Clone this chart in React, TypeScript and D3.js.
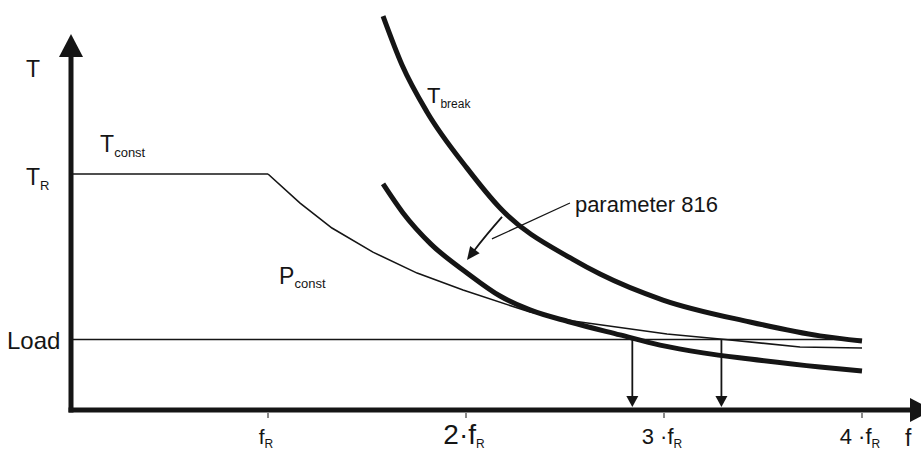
import React from 'react';
import { scaleLinear, line, curveLinear, curveMonotoneX } from 'd3';

// f in units of f_R, T in units of T_R
const T_CONST_F = [0, 1];
const T_CONST_T = [1, 1];

const P_CONST_F = [1.0, 1.162, 1.323, 1.53, 1.753, 1.985, 2.323, 2.54, 3.015, 3.283, 3.687, 4.0];
const P_CONST_T = [1.0, 0.877, 0.771, 0.669, 0.58, 0.508, 0.415, 0.377, 0.322, 0.301, 0.267, 0.263];

const T_BREAK_F = [1.581, 1.677, 1.803, 2.005, 2.172, 2.54, 2.677, 2.995, 3.434, 3.788, 4.0];
const T_BREAK_T = [1.669, 1.462, 1.263, 1.025, 0.856, 0.638, 0.576, 0.466, 0.373, 0.314, 0.292];

const P816_F = [1.581, 1.682, 1.823, 2.005, 2.172, 2.323, 2.525, 2.778, 2.98, 3.197, 3.434, 3.788, 4.0];
const P816_T = [0.958, 0.835, 0.703, 0.581, 0.483, 0.424, 0.373, 0.318, 0.275, 0.242, 0.216, 0.182, 0.165];

const LOAD_T = 0.299;
const LOAD_END_F = 4.0;
const DROP_F = [2.84, 3.29];

const X_TICKS = [1, 2, 3, 4];
const X_TICK_LABEL = ['f', '2·f', '3 ·f', '4 ·f'];
const X_TICK_SIZE = [21, 28, 22, 22];

const W = 921;
const H = 453;
const INK = '#151515';
const FONT = '"Liberation Sans", Arial, Helvetica, sans-serif';

type Pt = { f: number; t: number };
const zip = (fs: number[], ts: number[]): Pt[] => fs.map((f, i) => ({ f, t: ts[i] }));

export default function App() {
  const x = scaleLinear().domain([0, 4]).range([70, 862]);
  const y = scaleLinear().domain([0, 1]).range([410, 174]);

  const thin = line<Pt>().x((d) => x(d.f)).y((d) => y(d.t)).curve(curveLinear);
  const thick = line<Pt>().x((d) => x(d.f)).y((d) => y(d.t)).curve(curveMonotoneX);

  const x0 = x(0);
  const y0 = y(0);

  // annotation for parameter 816 (data units)
  const leadFrom = { f: 2.525, t: 0.877 };
  const leadTo = { f: 2.131, t: 0.725 };
  const arrFrom = { f: 2.182, t: 0.818 };
  const arrCtl = { f: 2.1, t: 0.74 };
  const arrTip = { f: 2.005, t: 0.636 };
  const ax = x(arrTip.f);
  const ay = y(arrTip.t);
  const dx = ax - x(arrCtl.f);
  const dy = ay - y(arrCtl.t);
  const len = Math.hypot(dx, dy);
  const ux = dx / len;
  const uy = dy / len;
  const headL = 13;
  const headW = 6;
  const head = [
    [ax, ay],
    [ax - ux * headL - uy * headW, ay - uy * headL + ux * headW],
    [ax - ux * headL + uy * headW, ay - uy * headL - ux * headW],
  ]
    .map((p) => p.join(','))
    .join(' ');

  return (
    <svg
      width={W}
      height={H}
      viewBox={`0 0 ${W} ${H}`}
      style={{ position: 'fixed', left: 0, top: 0, background: '#fff' }}
      fontFamily={FONT}
      fill={INK}
    >
      <rect width={W} height={H} fill="#fff" />

      {/* axes */}
      <line x1={x0 + 1} y1={y0 + 2.5} x2={x0 + 1} y2={52} stroke={INK} strokeWidth={5} />
      <polygon points={`${x0 + 1},34 ${x0 - 11},57 ${x0 + 13},57`} fill={INK} />
      <line x1={x0 - 1.5} y1={y0} x2={912} y2={y0} stroke={INK} strokeWidth={5} />
      <polygon points={`933,${y0} 910,${y0 - 12} 910,${y0 + 12}`} fill={INK} />

      {X_TICKS.map((v, i) => (
        <g key={v}>
          <line x1={x(v)} x2={x(v)} y1={y0 + 3} y2={y0 + 8} stroke={INK} strokeWidth={1} />
          <text x={x(v) - 2} y={444} textAnchor="middle" fontSize={X_TICK_SIZE[i]}>
            {X_TICK_LABEL[i]}
            <tspan fontSize={12} dy={4}>R</tspan>
          </text>
        </g>
      ))}
      <text x={905} y={446} fontSize={23}>f</text>

      {/* y labels */}
      <text x={26} y={77} fontSize={23}>T</text>
      <text x={26} y={185} fontSize={23}>
        T<tspan fontSize={13} dy={5}>R</tspan>
      </text>
      <text x={7} y={349} fontSize={24}>Load</text>

      {/* load line */}
      <line x1={x0 + 3} x2={x(LOAD_END_F)} y1={y(LOAD_T)} y2={y(LOAD_T)} stroke={INK} strokeWidth={1.5} />

      {/* T_const + P_const */}
      <path d={thin(zip(T_CONST_F, T_CONST_T)) ?? ''} fill="none" stroke={INK} strokeWidth={1.6} />
      <path d={thin(zip(P_CONST_F, P_CONST_T)) ?? ''} fill="none" stroke={INK} strokeWidth={1.6} />

      {/* thick curves */}
      <path d={thick(zip(T_BREAK_F, T_BREAK_T)) ?? ''} fill="none" stroke={INK} strokeWidth={5} />
      <path d={thick(zip(P816_F, P816_T)) ?? ''} fill="none" stroke={INK} strokeWidth={5} />

      {/* drop arrows */}
      {DROP_F.map((f) => (
        <g key={f}>
          <line x1={x(f)} x2={x(f)} y1={y(LOAD_T)} y2={y0 - 12} stroke={INK} strokeWidth={1.8} />
          <polygon points={`${x(f)},${y0 - 3} ${x(f) - 6},${y0 - 14} ${x(f) + 6},${y0 - 14}`} fill={INK} />
        </g>
      ))}

      {/* curve labels */}
      <text x={x(0.152)} y={y(1.093)} fontSize={23}>
        T<tspan fontSize={13} dy={5}>const</tspan>
      </text>
      <text x={x(1.056)} y={y(0.534)} fontSize={23}>
        P<tspan fontSize={13} dy={4}>const</tspan>
      </text>
      <text x={x(1.803)} y={y(1.301)} fontSize={22}>
        T<tspan fontSize={12} dy={5}>break</tspan>
      </text>

      {/* parameter 816 annotation */}
      <text x={x(2.55)} y={y(0.839)} fontSize={22}>parameter 816</text>
      <line
        x1={x(leadFrom.f)}
        y1={y(leadFrom.t)}
        x2={x(leadTo.f)}
        y2={y(leadTo.t)}
        stroke={INK}
        strokeWidth={1.2}
      />
      <path
        d={`M${x(arrFrom.f)},${y(arrFrom.t)} Q${x(arrCtl.f)},${y(arrCtl.t)} ${ax - ux * 10},${ay - uy * 10}`}
        fill="none"
        stroke={INK}
        strokeWidth={1.8}
      />
      <polygon points={head} fill={INK} />
    </svg>
  );
}
